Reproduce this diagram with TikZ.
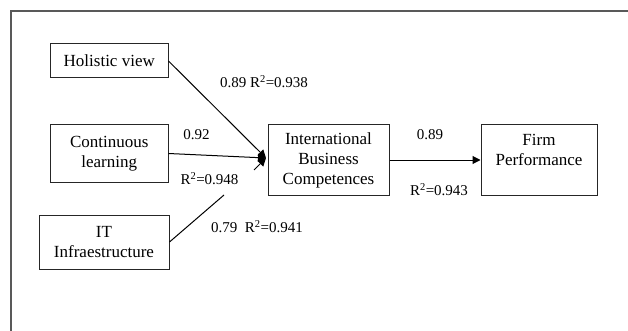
\documentclass[tikz,border=0pt]{standalone}
\usepackage{fontspec}
\setmainfont{Liberation Serif}
\usetikzlibrary{arrows.meta}
\begin{document}
\begin{tikzpicture}[x=1pt,y=-1pt,
  box/.style={draw=black!85,line width=1pt,align=center,inner sep=0pt,
    font=\fontsize{17}{20}\selectfont},
  lbl/.style={inner sep=0pt,font=\fontsize{15}{18}\selectfont},
  conn/.style={line width=1pt,draw=black},
  arr/.style={conn,-{Triangle[length=8pt,width=8pt]}}]
\useasboundingbox (0,0) rectangle (628,331);
\draw[line width=1.4pt,draw=black!65] (11,331) -- (11,11) -- (628,11);
\node[box,minimum width=117.5pt,minimum height=34pt] (hol) at (109.25,61) {Holistic view};
\node[box,minimum width=117.5pt,minimum height=57pt] (con) at (109.25,153.5) {Continuous\\learning};
\node[box,minimum width=130pt,minimum height=54pt] (it) at (104,242) {IT\\Infraestructure};
\node[box,minimum width=121pt,minimum height=70pt] (ibc) at (328.5,160) {International\\Business\\Competences};
\node[box,minimum width=116pt,minimum height=70pt] (firm) at (539,160) {Firm\\Performance\\\mbox{}};
\coordinate (tip) at (266,158);
\coordinate (g1) at (224,195);
\coordinate (g2) at (254,170);
\draw[arr] (hol.east) -- (tip);
\draw[arr] (con.east) -- (tip);
\draw[conn] (it.east) -- (g1);
\draw[arr] (g2) -- (tip);
\draw[arr] (ibc.east) -- (firm.west);
\node[lbl] (l1) at (264,82) {0.89 R\textsuperscript{2}=0.938};
\node[lbl] (l2) at (196.5,135) {0.92};
\node[lbl] (l3) at (209.5,179) {R\textsuperscript{2}=0.948};
\node[lbl] (l4) at (257,227) {0.79~ R\textsuperscript{2}=0.941};
\node[lbl] (l5) at (430,135) {0.89};
\node[lbl] (l6) at (439,190) {R\textsuperscript{2}=0.943};
\end{tikzpicture}
\end{document}
